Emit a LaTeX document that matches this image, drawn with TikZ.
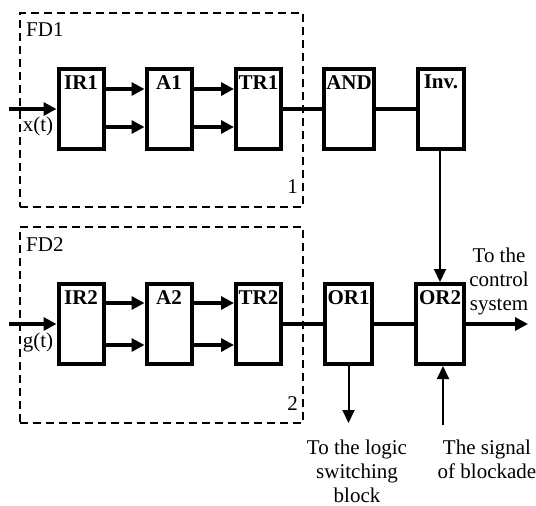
\documentclass[tikz,border=0pt]{standalone}
\usepackage{fontspec}
\setmainfont{Liberation Serif}
\usetikzlibrary{arrows.meta}
\begin{document}
\begin{tikzpicture}[x=1pt,y=-1pt,
  blk/.style={draw,line width=4pt,minimum width=45pt,minimum height=80pt,inner sep=0pt,
    label={[anchor=north,yshift=-8pt,inner sep=0pt,font=\fontsize{21}{24}\selectfont\bfseries]north:#1}},
  fdbox/.style={draw,line width=2.2pt,dash pattern=on 8pt off 5pt,inner sep=0pt},
  thick arrow/.style={line width=3.8pt,-{Triangle[length=13pt,width=13pt]}},
  thin arrow/.style={line width=2pt,-{Triangle[length=13pt,width=12pt]}},
  thickline/.style={line width=3.8pt},
  txt/.style={font=\fontsize{21}{24}\selectfont,inner sep=0pt,align=center}]
\useasboundingbox (0,0) rectangle (536,506);
% dashed frames
\node[fdbox,minimum width=283pt,minimum height=194pt] (FD1) at (161.5,110) {};
\node[fdbox,minimum width=283pt,minimum height=196pt] (FD2) at (161.5,325) {};
\node[txt,anchor=north west] (fd1lab) at (26,22) {FD1};
\node[txt,anchor=north west] (fd2lab) at (26,237) {FD2};
\node[txt,anchor=south east] (n1) at (298,194) {1};
\node[txt,anchor=south east] (n2) at (298,411) {2};
% blocks row 1
\node[blk=IR1] (IR1) at (81,109) {};
\node[blk=A1] (A1) at (169,109) {};
\node[blk=TR1] (TR1) at (258.5,109) {};
\node[blk=AND,minimum width=50pt] (AND) at (349,109) {};
\node[blk=Inv.,minimum width=46pt] (INV) at (441,109) {};
% blocks row 2
\node[blk=IR2] (IR2) at (81,324) {};
\node[blk=A2] (A2) at (169,324) {};
\node[blk=TR2] (TR2) at (258.5,324) {};
\node[blk=OR1,minimum width=47pt] (OR1) at (348.5,324) {};
\node[blk=OR2,minimum width=48pt] (OR2) at (440,324) {};
% inputs
\coordinate (in1) at (9,109);
\coordinate (in2) at (9,324);
\draw[thick arrow] (in1) -- (IR1.west);
\draw[thick arrow] (in2) -- (IR2.west);
\node[txt,anchor=north] (xt) at (38,117) {x(t)};
\node[txt,anchor=north] (gt) at (38,333) {g(t)};
% internal arrows row 1
\draw[thick arrow] ([yshift=20pt]IR1.east) -- ([yshift=20pt]A1.west);
\draw[thick arrow] ([yshift=-18pt]IR1.east) -- ([yshift=-18pt]A1.west);
\draw[thick arrow] ([yshift=20pt]A1.east) -- ([yshift=20pt]TR1.west);
\draw[thick arrow] ([yshift=-18pt]A1.east) -- ([yshift=-18pt]TR1.west);
\draw[thickline] (TR1.east) -- (AND.west);
\draw[thickline] (AND.east) -- (INV.west);
% internal arrows row 2
\draw[thick arrow] ([yshift=21pt]IR2.east) -- ([yshift=21pt]A2.west);
\draw[thick arrow] ([yshift=-21pt]IR2.east) -- ([yshift=-21pt]A2.west);
\draw[thick arrow] ([yshift=21pt]A2.east) -- ([yshift=21pt]TR2.west);
\draw[thick arrow] ([yshift=-21pt]A2.east) -- ([yshift=-21pt]TR2.west);
\draw[thickline] (TR2.east) -- (OR1.west);
\draw[thickline] (OR1.east) -- (OR2.west);
% vertical connections
\draw[thin arrow] (INV.south -| OR2.north) -- (OR2.north);
\coordinate (outc) at (528,324);
\draw[thick arrow] (OR2.east) -- (outc);
\coordinate (logic) at (348.5,423);
\draw[thin arrow] (OR1.south) -- (logic);
\coordinate (block) at (443,425);
\draw[thin arrow] (block) -- (OR2.south -| block);
% texts
\node[txt] (ctrl) at (499,281) {To the\\control\\system};
\node[txt] (logtxt) at (357,471) {To the logic\\switching\\block};
\node[txt] (blktxt) at (487,459) {The signal\\of blockade};
\end{tikzpicture}
\end{document}
